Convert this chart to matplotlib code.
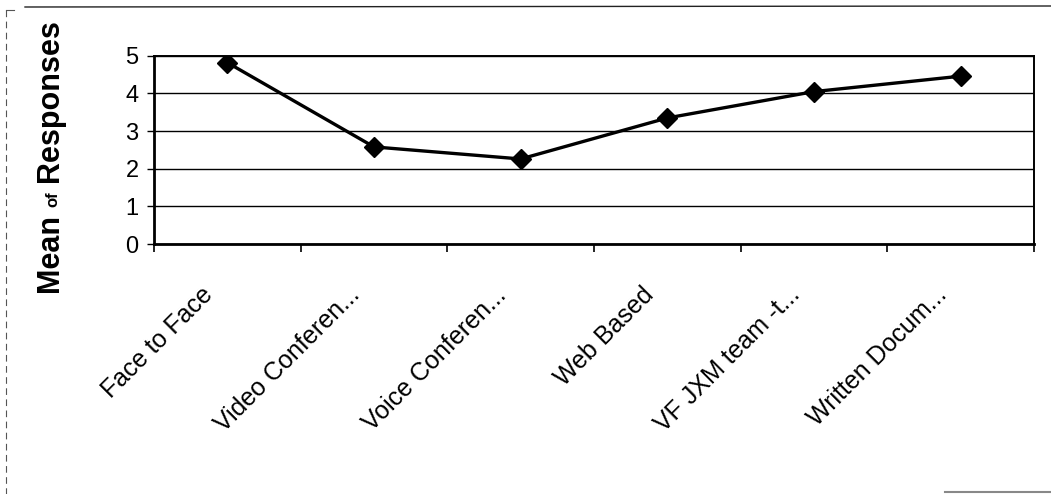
import numpy as np
import matplotlib.pyplot as plt
import matplotlib.transforms as mtransforms
from matplotlib.lines import Line2D

# mean response per communication channel
channels = ['Face to Face', 'Video Conferen...', 'Voice Conferen...',
            'Web Based', 'VF JXM team -t...', 'Written Docum...']
means = [4.82, 2.58, 2.26, 3.35, 4.05, 4.46]
y_ticks = [0, 1, 2, 3, 4, 5]

plt.rcParams['font.family'] = ['Liberation Sans', 'DejaVu Sans']

fig = plt.figure(figsize=(10.51, 4.94), dpi=100)
ax = fig.add_axes([0.1465, 0.506, 0.8375, 0.381])

x = np.arange(len(channels))
ax.plot(x, means, color='black', lw=2.4, marker='D', markersize=10.5,
        markerfacecolor='black', markeredgecolor='black', zorder=3)

ax.set_xlim(-0.5, len(channels) - 0.5)
ax.set_ylim(0, 5)
ax.set_yticks(y_ticks)
ax.set_yticklabels([str(v) for v in y_ticks], fontsize=17)
ax.yaxis.grid(True, color='black', lw=1.0)
ax.set_axisbelow(True)

# category labels centred, tick marks on the boundaries
ax.set_xticks(x)
ax.set_xticklabels(channels, fontsize=18, rotation=45, ha='right',
                   va='baseline', rotation_mode='anchor')
ax.set_xticks(np.arange(-0.5, len(channels)), minor=True)
ax.tick_params(axis='x', which='major', length=0, pad=0)
ax.tick_params(axis='x', which='minor', length=6, width=1.2, color='black')
ax.tick_params(axis='y', length=5, width=1.0, pad=6)
shift = mtransforms.ScaledTranslation(-0.13, -0.52, fig.dpi_scale_trans)
for lab in ax.get_xticklabels():
    lab.set_transform(lab.get_transform() + shift)

for side in ['left', 'bottom']:
    ax.spines[side].set_linewidth(2.0)
for side in ['top', 'right']:
    ax.spines[side].set_linewidth(1.4)

# y label with a small "of"
fig.text(0.048, 1 - 253 / 494, 'Mean', rotation=90, fontsize=22,
         fontweight='bold', ha='center', va='center')
fig.text(0.050, 1 - 199 / 494, 'of', rotation=90, fontsize=12,
         fontweight='bold', ha='center', va='center')
fig.text(0.048, 1 - 101 / 494, 'Responses', rotation=90, fontsize=22,
         fontweight='bold', ha='center', va='center')

# frame around the figure
fig.add_artist(Line2D([25 / 1051, 1.0], [1 - 7 / 494, 1 - 6 / 494],
                      color='#222222', lw=1.0))
fig.add_artist(Line2D([6 / 1051, 6 / 1051], [1 - 10 / 494, 0.0],
                      color='#555555', lw=0.8, ls=(0, (6, 4))))
fig.add_artist(Line2D([6 / 1051, 14 / 1051], [1 - 10 / 494, 1 - 10 / 494],
                      color='#555555', lw=0.8))
fig.add_artist(Line2D([945 / 1051, 1.0], [1 - 492 / 494, 1 - 492 / 494],
                      color='#888888', lw=1.5))

fig.savefig('out.png', dpi=100)
